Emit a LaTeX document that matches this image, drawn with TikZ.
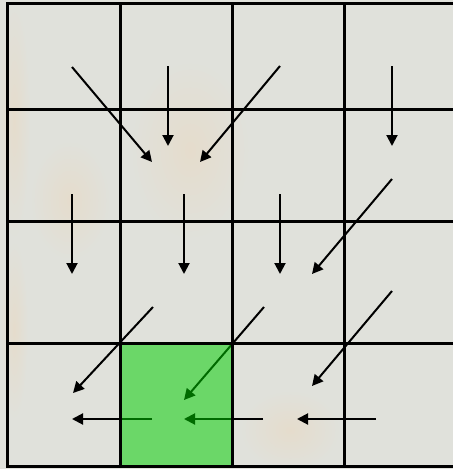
\documentclass[tikz,border=0pt]{standalone}
\usetikzlibrary{arrows.meta}
\definecolor{bggray}{RGB}{224,225,219}
\definecolor{beige}{RGB}{229,220,204}
\definecolor{cellgreen}{RGB}{0,206,0}
\begin{document}
\begin{tikzpicture}[x=1pt,y=-1pt,
  gridline/.style={line width=3pt,black},
  flow/.style={line width=2pt,black,-{Triangle[length=11pt,width=11pt]}},
  goal/.style={fill=cellgreen,fill opacity=0.52},
  blob/.style={inner color=beige,outer color=bggray}]
\useasboundingbox (0,0) rectangle (453,469);
\fill[bggray] (0,0) rectangle (453,469);
% faint beige tint of the background picture (soft blobs)
\shade[blob] (14,120) ellipse (16 and 120);
\shade[blob] (14,330) ellipse (14 and 90);
\shade[blob] (190,150) ellipse (60 and 90);
\shade[blob] (70,200) ellipse (40 and 60);
\shade[blob] (290,430) ellipse (50 and 40);
% arrow end points
\coordinate (a1s) at (72,67);   \coordinate (a1e) at (152,162);
\coordinate (a2s) at (168,66);  \coordinate (a2e) at (168,146);
\coordinate (a3s) at (280,66);  \coordinate (a3e) at (200,162);
\coordinate (a4s) at (392,66);  \coordinate (a4e) at (392,146);
\coordinate (b1s) at (72,194);  \coordinate (b1e) at (72,274);
\coordinate (b2s) at (184,194); \coordinate (b2e) at (184,274);
\coordinate (b3s) at (280,194); \coordinate (b3e) at (280,274);
\coordinate (b4s) at (392,179); \coordinate (b4e) at (312,274);
\coordinate (c1s) at (153,307); \coordinate (c1e) at (73,393);
\coordinate (c2s) at (264,307); \coordinate (c2e) at (184,400);
\coordinate (c3s) at (392,291); \coordinate (c3e) at (312,386);
\coordinate (d1s) at (152,419); \coordinate (d1e) at (72,419);
\coordinate (d2s) at (263,419); \coordinate (d2e) at (184,419);
\coordinate (d3s) at (376,419); \coordinate (d3e) at (297,419);
\foreach \p in {a1,a2,a3,a4,b1,b2,b3,b4,c1,c2,c3,d1,d2,d3}
  \draw[flow] (\p s) -- (\p e);
% goal cell (translucent, over the arrows)
\coordinate (g1) at (120,343); \coordinate (g2) at (232,466);
\fill[goal] (g1) rectangle (g2);
% grid
\foreach \x in {7.5,120,232,344}
  \draw[gridline] (\x,3) -- (\x,466);
\foreach \y in {3,109,221,343,466}
  \draw[gridline] (6,\y) -- (453,\y);
\end{tikzpicture}
\end{document}
